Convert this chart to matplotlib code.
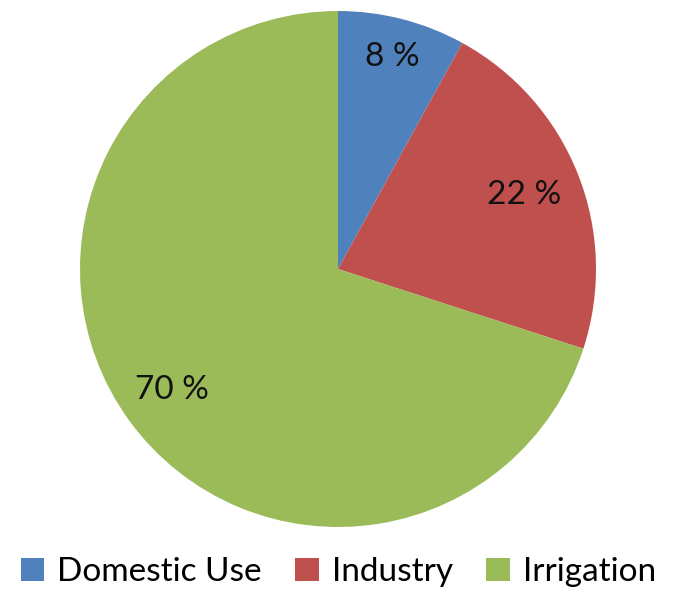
import matplotlib
matplotlib.use("Agg")
import matplotlib.pyplot as plt
from matplotlib.patches import Patch

categories = ["Domestic Use", "Industry", "Irrigation"]
shares = [8, 22, 70]
colors = ["#4F81BD", "#C0504D", "#9BBB59"]
label_pos = [(0.209, 0.822), (0.721, 0.287), (-0.643, -0.469)]

plt.rcParams["font.family"] = ["Lato", "DejaVu Sans"]

W, H = 677, 590
fig = plt.figure(figsize=(W / 100, H / 100), dpi=100)
cx, cy, r = 338, 269, 258
ax = fig.add_axes([(cx - r) / W, (H - cy - r) / H, 2 * r / W, 2 * r / H])
ax.pie(shares, colors=colors, startangle=90, counterclock=False, radius=1,
       wedgeprops=dict(linewidth=0))
ax.set_xlim(-1, 1)
ax.set_ylim(-1, 1)
ax.set_aspect("equal")
ax.axis("off")

for v, (x, y) in zip(shares, label_pos):
    ax.text(x, y, f"{v} %", ha="center", va="center", fontsize=24, color="#111111")

handles = [Patch(facecolor=c, edgecolor="none") for c in colors]
fig.legend(handles, categories, loc="center", bbox_to_anchor=(0.5, 1 - 572 / H),
           ncol=3, frameon=False, fontsize=24, handlelength=0.7, handleheight=0.7,
           handletextpad=0.4, columnspacing=1.0, borderaxespad=0, borderpad=0)

fig.savefig("out.png", dpi=100)
